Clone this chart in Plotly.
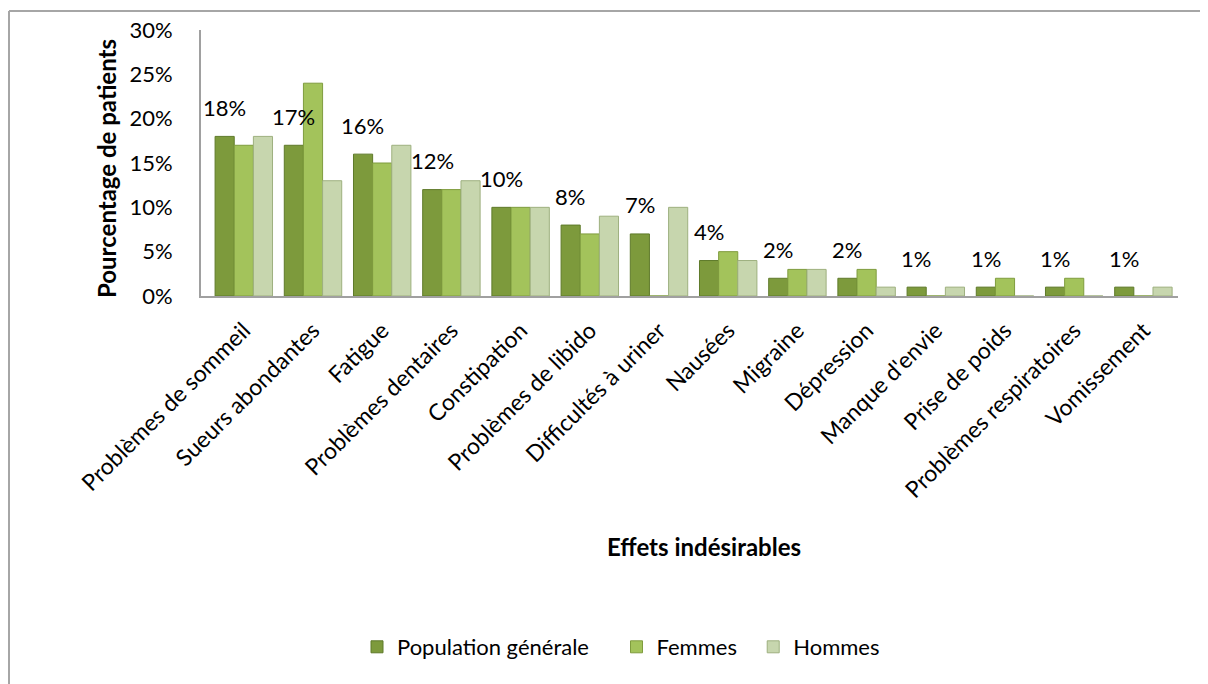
"""Effets indésirables par groupe de patients (barres groupées)."""
import plotly.graph_objects as go

# Données
categories = [
    "Problèmes de sommeil", "Sueurs abondantes", "Fatigue", "Problèmes dentaires",
    "Constipation", "Problèmes de libido", "Difficultés à uriner", "Nausées",
    "Migraine", "Dépression", "Manque d'envie", "Prise de poids",
    "Problèmes respiratoires", "Vomissement",
]
population = [18, 17, 16, 12, 10, 8, 7, 4, 2, 2, 1, 1, 1, 1]
femmes = [17, 24, 15, 12, 10, 7, 0, 5, 3, 3, 0, 2, 2, 0]
hommes = [18, 13, 17, 13, 10, 9, 10, 4, 3, 1, 1, 0, 0, 1]
y_ticks = [0, 5, 10, 15, 20, 25, 30]

# la page a une marge de 8 px : la figure commence à (8, 8) dans la fenêtre
OFF = 8
W, H = 1208 - OFF, 684 - OFF
PLOT_L, PLOT_R, PLOT_T, PLOT_B = 201, 1178, 30, 296   # zone de tracé (fenêtre)
L, R = PLOT_L - OFF, 1208 - PLOT_R
T, B = PLOT_T - OFF, 684 - PLOT_B
FONT = "Lato, Carlito, Calibri, sans-serif"
BARGAP = 0.17
NBSP = "\u00a0"


def px_x(x):
    return (x - PLOT_L) / (PLOT_R - PLOT_L)


def px_y(y):
    return (PLOT_B - y) / (PLOT_B - PLOT_T)


fig = go.Figure()

# (nom, valeurs, couleur, contour, espacement légende)
series = [
    ("Population générale", population, "#7d9a3c", "#5f7a2a", 4),
    ("Femmes", femmes, "#a3c35b", "#7f9c3e", 2),
    ("Hommes", hommes, "#c7d6ae", "#9eb07f", 0),
]
for name, vals, col, edge, pad in series:
    fig.add_trace(go.Bar(
        x=categories,
        y=vals,
        name=name + NBSP * pad,
        marker=dict(color=col, line=dict(color=edge, width=1)),
    ))

# étiquettes (population générale) au-dessus de la première barre du groupe
slot = (PLOT_R - PLOT_L) / len(categories)
bar_w = slot * (1 - BARGAP) / 3
for cat, v in zip(categories, population):
    fig.add_annotation(
        x=cat, y=v, text=f"{v}%", showarrow=False,
        xshift=-bar_w, yshift=29, xanchor="center", yanchor="middle",
        font=dict(family=FONT, size=22, color="#000000"),
    )

# titres des axes
fig.add_annotation(
    xref="paper", yref="paper", x=px_x(704), y=px_y(546),
    xanchor="center", yanchor="middle",
    text="<b>Effets indésirables</b>", showarrow=False,
    font=dict(family=FONT, size=24, color="#000000"),
)
fig.add_annotation(
    xref="paper", yref="paper", x=px_x(107), y=px_y(169),
    xanchor="center", yanchor="middle",
    text="<b>Pourcentage de patients</b>", showarrow=False, textangle=-90,
    font=dict(family=FONT, size=24, color="#000000"),
)

# cadre (haut et gauche)
fig.add_shape(type="line", xref="paper", yref="paper",
              x0=px_x(9), x1=px_x(1215), y0=px_y(11), y1=px_y(11),
              line=dict(color="#a6a6a6", width=2))
fig.add_shape(type="line", xref="paper", yref="paper",
              x0=px_x(9), x1=px_x(9), y0=px_y(11), y1=px_y(690),
              line=dict(color="#a6a6a6", width=2))

fig.update_layout(
    width=W, height=H,
    margin=dict(l=L, r=R, t=T, b=B, autoexpand=False),
    barmode="group", bargap=BARGAP, bargroupgap=0,
    plot_bgcolor="white", paper_bgcolor="white",
    font=dict(family=FONT, size=22, color="#000000"),
    legend=dict(
        orientation="h", x=px_x(621), y=px_y(647),
        xanchor="center", yanchor="middle",
        font=dict(family=FONT, size=22), itemwidth=30,
    ),
    xaxis=dict(
        tickangle=-45, showline=True, linecolor="#a0a0a0", linewidth=2,
        showgrid=False, ticks="", automargin=False,
        ticklabelstandoff=10,
        tickfont=dict(family=FONT, size=23),
    ),
    yaxis=dict(
        range=[0, 30], tickvals=y_ticks,
        ticktext=[f"{v}%" for v in y_ticks],
        showline=True, linecolor="#a0a0a0", linewidth=2,
        showgrid=False, zeroline=False, ticks="", automargin=False,
        ticklabelstandoff=22, tickfont=dict(family=FONT, size=22),
    ),
)

fig.write_html("out.html")
